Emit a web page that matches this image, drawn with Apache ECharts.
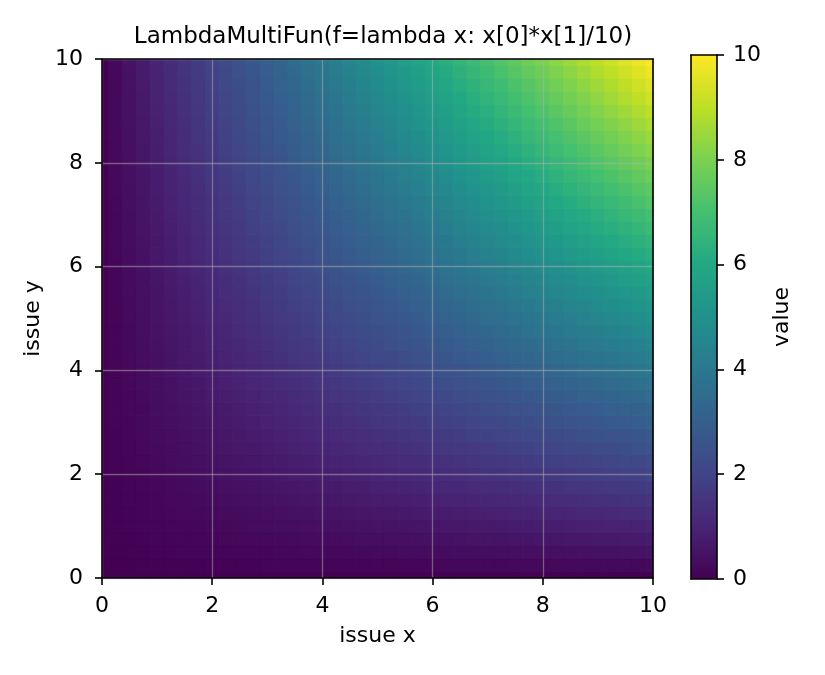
<!DOCTYPE html>
<html>
<head>
<meta charset="utf-8">
<script src="https://cdn.jsdelivr.net/npm/echarts@6/dist/echarts.min.js"></script>
<style>
    html, body {margin: 0; padding: 0; background: #fff;}
    #chart {width: 825px; height: 675px;}
</style>
</head>
<body>
<div id="chart"></div>
<script>
    'use strict';

    // sample positions of the heatmap (issue x / issue y), step 0.25
    const xLevels = [0, 0.25, 0.5, 0.75, 1, 1.25, 1.5, 1.75, 2, 2.25, 2.5, 2.75, 3, 3.25, 3.5, 3.75, 4, 4.25, 4.5, 4.75,
        5, 5.25, 5.5, 5.75, 6, 6.25, 6.5, 6.75, 7, 7.25, 7.5, 7.75, 8, 8.25, 8.5, 8.75, 9, 9.25, 9.5, 9.75, 10];
    const yLevels = [0, 0.25, 0.5, 0.75, 1, 1.25, 1.5, 1.75, 2, 2.25, 2.5, 2.75, 3, 3.25, 3.5, 3.75, 4, 4.25, 4.5, 4.75,
        5, 5.25, 5.5, 5.75, 6, 6.25, 6.5, 6.75, 7, 7.25, 7.5, 7.75, 8, 8.25, 8.5, 8.75, 9, 9.25, 9.5, 9.75, 10];
    // one row per yLevel (bottom to top), one column per xLevel
    const values = [
        [0,0,0,0,0,0,0,0, 0,0,0,0,0,0,0,0, 0,0,0,0,0,0,0,0, 0,0,0,0,0,0,0,0, 0,0,0,0,0,0,0,0, 0],
        [0,.01,.01,.02,.03,.03,.04,.04, .05,.06,.06,.07,.08,.08,.09,.09, .1,.11,.11,.12,.13,.13,.14,.14, .15,.16,.16,.17,.18,.18,.19,.19, .2,.21,.21,.22,.23,.23,.24,.24, .25],
        [0,.01,.03,.04,.05,.06,.08,.09, .1,.11,.13,.14,.15,.16,.18,.19, .2,.21,.23,.24,.25,.26,.28,.29, .3,.31,.33,.34,.35,.36,.38,.39, .4,.41,.43,.44,.45,.46,.48,.49, .5],
        [0,.02,.04,.06,.08,.09,.11,.13, .15,.17,.19,.21,.23,.24,.26,.28, .3,.32,.34,.36,.38,.39,.41,.43, .45,.47,.49,.51,.53,.54,.56,.58, .6,.62,.64,.66,.68,.69,.71,.73, .75],
        [0,.03,.05,.08,.1,.13,.15,.18, .2,.23,.25,.28,.3,.33,.35,.38, .4,.43,.45,.48,.5,.53,.55,.58, .6,.63,.65,.68,.7,.73,.75,.78, .8,.83,.85,.88,.9,.93,.95,.98, 1],
        [0,.03,.06,.09,.13,.16,.19,.22, .25,.28,.31,.34,.38,.41,.44,.47, .5,.53,.56,.59,.63,.66,.69,.72, .75,.78,.81,.84,.88,.91,.94,.97, 1,1.03,1.06,1.09,1.13,1.16,1.19,1.22, 1.25],
        [0,.04,.08,.11,.15,.19,.23,.26, .3,.34,.38,.41,.45,.49,.53,.56, .6,.64,.68,.71,.75,.79,.83,.86, .9,.94,.98,1.01,1.05,1.09,1.13,1.16, 1.2,1.24,1.28,1.31,1.35,1.39,1.43,1.46, 1.5],
        [0,.04,.09,.13,.18,.22,.26,.31, .35,.39,.44,.48,.53,.57,.61,.66, .7,.74,.79,.83,.88,.92,.96,1.01, 1.05,1.09,1.14,1.18,1.23,1.27,1.31,1.36, 1.4,1.44,1.49,1.53,1.58,1.62,1.66,1.71, 1.75],
        [0,.05,.1,.15,.2,.25,.3,.35, .4,.45,.5,.55,.6,.65,.7,.75, .8,.85,.9,.95,1,1.05,1.1,1.15, 1.2,1.25,1.3,1.35,1.4,1.45,1.5,1.55, 1.6,1.65,1.7,1.75,1.8,1.85,1.9,1.95, 2],
        [0,.06,.11,.17,.23,.28,.34,.39, .45,.51,.56,.62,.68,.73,.79,.84, .9,.96,1.01,1.07,1.13,1.18,1.24,1.29, 1.35,1.41,1.46,1.52,1.58,1.63,1.69,1.74, 1.8,1.86,1.91,1.97,2.03,2.08,2.14,2.19, 2.25],
        [0,.06,.13,.19,.25,.31,.38,.44, .5,.56,.63,.69,.75,.81,.88,.94, 1,1.06,1.13,1.19,1.25,1.31,1.38,1.44, 1.5,1.56,1.63,1.69,1.75,1.81,1.88,1.94, 2,2.06,2.13,2.19,2.25,2.31,2.38,2.44, 2.5],
        [0,.07,.14,.21,.28,.34,.41,.48, .55,.62,.69,.76,.83,.89,.96,1.03, 1.1,1.17,1.24,1.31,1.38,1.44,1.51,1.58, 1.65,1.72,1.79,1.86,1.93,1.99,2.06,2.13, 2.2,2.27,2.34,2.41,2.48,2.54,2.61,2.68, 2.75],
        [0,.08,.15,.23,.3,.38,.45,.53, .6,.68,.75,.83,.9,.98,1.05,1.13, 1.2,1.28,1.35,1.43,1.5,1.58,1.65,1.73, 1.8,1.88,1.95,2.03,2.1,2.18,2.25,2.33, 2.4,2.48,2.55,2.63,2.7,2.78,2.85,2.93, 3],
        [0,.08,.16,.24,.33,.41,.49,.57, .65,.73,.81,.89,.98,1.06,1.14,1.22, 1.3,1.38,1.46,1.54,1.63,1.71,1.79,1.87, 1.95,2.03,2.11,2.19,2.28,2.36,2.44,2.52, 2.6,2.68,2.76,2.84,2.93,3.01,3.09,3.17, 3.25],
        [0,.09,.18,.26,.35,.44,.53,.61, .7,.79,.88,.96,1.05,1.14,1.23,1.31, 1.4,1.49,1.58,1.66,1.75,1.84,1.93,2.01, 2.1,2.19,2.28,2.36,2.45,2.54,2.63,2.71, 2.8,2.89,2.98,3.06,3.15,3.24,3.33,3.41, 3.5],
        [0,.09,.19,.28,.38,.47,.56,.66, .75,.84,.94,1.03,1.13,1.22,1.31,1.41, 1.5,1.59,1.69,1.78,1.88,1.97,2.06,2.16, 2.25,2.34,2.44,2.53,2.63,2.72,2.81,2.91, 3,3.09,3.19,3.28,3.38,3.47,3.56,3.66, 3.75],
        [0,.1,.2,.3,.4,.5,.6,.7, .8,.9,1,1.1,1.2,1.3,1.4,1.5, 1.6,1.7,1.8,1.9,2,2.1,2.2,2.3, 2.4,2.5,2.6,2.7,2.8,2.9,3,3.1, 3.2,3.3,3.4,3.5,3.6,3.7,3.8,3.9, 4],
        [0,.11,.21,.32,.43,.53,.64,.74, .85,.96,1.06,1.17,1.28,1.38,1.49,1.59, 1.7,1.81,1.91,2.02,2.13,2.23,2.34,2.44, 2.55,2.66,2.76,2.87,2.98,3.08,3.19,3.29, 3.4,3.51,3.61,3.72,3.83,3.93,4.04,4.14, 4.25],
        [0,.11,.23,.34,.45,.56,.68,.79, .9,1.01,1.13,1.24,1.35,1.46,1.58,1.69, 1.8,1.91,2.03,2.14,2.25,2.36,2.48,2.59, 2.7,2.81,2.93,3.04,3.15,3.26,3.38,3.49, 3.6,3.71,3.83,3.94,4.05,4.16,4.28,4.39, 4.5],
        [0,.12,.24,.36,.48,.59,.71,.83, .95,1.07,1.19,1.31,1.43,1.54,1.66,1.78, 1.9,2.02,2.14,2.26,2.38,2.49,2.61,2.73, 2.85,2.97,3.09,3.21,3.33,3.44,3.56,3.68, 3.8,3.92,4.04,4.16,4.28,4.39,4.51,4.63, 4.75],
        [0,.13,.25,.38,.5,.63,.75,.88, 1,1.13,1.25,1.38,1.5,1.63,1.75,1.88, 2,2.13,2.25,2.38,2.5,2.63,2.75,2.88, 3,3.13,3.25,3.38,3.5,3.63,3.75,3.88, 4,4.13,4.25,4.38,4.5,4.63,4.75,4.88, 5],
        [0,.13,.26,.39,.53,.66,.79,.92, 1.05,1.18,1.31,1.44,1.58,1.71,1.84,1.97, 2.1,2.23,2.36,2.49,2.63,2.76,2.89,3.02, 3.15,3.28,3.41,3.54,3.68,3.81,3.94,4.07, 4.2,4.33,4.46,4.59,4.73,4.86,4.99,5.12, 5.25],
        [0,.14,.28,.41,.55,.69,.83,.96, 1.1,1.24,1.38,1.51,1.65,1.79,1.93,2.06, 2.2,2.34,2.48,2.61,2.75,2.89,3.03,3.16, 3.3,3.44,3.58,3.71,3.85,3.99,4.13,4.26, 4.4,4.54,4.68,4.81,4.95,5.09,5.23,5.36, 5.5],
        [0,.14,.29,.43,.58,.72,.86,1.01, 1.15,1.29,1.44,1.58,1.73,1.87,2.01,2.16, 2.3,2.44,2.59,2.73,2.88,3.02,3.16,3.31, 3.45,3.59,3.74,3.88,4.03,4.17,4.31,4.46, 4.6,4.74,4.89,5.03,5.18,5.32,5.46,5.61, 5.75],
        [0,.15,.3,.45,.6,.75,.9,1.05, 1.2,1.35,1.5,1.65,1.8,1.95,2.1,2.25, 2.4,2.55,2.7,2.85,3,3.15,3.3,3.45, 3.6,3.75,3.9,4.05,4.2,4.35,4.5,4.65, 4.8,4.95,5.1,5.25,5.4,5.55,5.7,5.85, 6],
        [0,.16,.31,.47,.63,.78,.94,1.09, 1.25,1.41,1.56,1.72,1.88,2.03,2.19,2.34, 2.5,2.66,2.81,2.97,3.13,3.28,3.44,3.59, 3.75,3.91,4.06,4.22,4.38,4.53,4.69,4.84, 5,5.16,5.31,5.47,5.63,5.78,5.94,6.09, 6.25],
        [0,.16,.33,.49,.65,.81,.98,1.14, 1.3,1.46,1.63,1.79,1.95,2.11,2.28,2.44, 2.6,2.76,2.93,3.09,3.25,3.41,3.58,3.74, 3.9,4.06,4.23,4.39,4.55,4.71,4.88,5.04, 5.2,5.36,5.53,5.69,5.85,6.01,6.18,6.34, 6.5],
        [0,.17,.34,.51,.68,.84,1.01,1.18, 1.35,1.52,1.69,1.86,2.03,2.19,2.36,2.53, 2.7,2.87,3.04,3.21,3.38,3.54,3.71,3.88, 4.05,4.22,4.39,4.56,4.73,4.89,5.06,5.23, 5.4,5.57,5.74,5.91,6.08,6.24,6.41,6.58, 6.75],
        [0,.18,.35,.53,.7,.88,1.05,1.23, 1.4,1.58,1.75,1.93,2.1,2.28,2.45,2.63, 2.8,2.98,3.15,3.33,3.5,3.68,3.85,4.03, 4.2,4.38,4.55,4.73,4.9,5.08,5.25,5.43, 5.6,5.78,5.95,6.13,6.3,6.48,6.65,6.83, 7],
        [0,.18,.36,.54,.73,.91,1.09,1.27, 1.45,1.63,1.81,1.99,2.18,2.36,2.54,2.72, 2.9,3.08,3.26,3.44,3.63,3.81,3.99,4.17, 4.35,4.53,4.71,4.89,5.08,5.26,5.44,5.62, 5.8,5.98,6.16,6.34,6.53,6.71,6.89,7.07, 7.25],
        [0,.19,.38,.56,.75,.94,1.13,1.31, 1.5,1.69,1.88,2.06,2.25,2.44,2.63,2.81, 3,3.19,3.38,3.56,3.75,3.94,4.13,4.31, 4.5,4.69,4.88,5.06,5.25,5.44,5.63,5.81, 6,6.19,6.38,6.56,6.75,6.94,7.13,7.31, 7.5],
        [0,.19,.39,.58,.78,.97,1.16,1.36, 1.55,1.74,1.94,2.13,2.33,2.52,2.71,2.91, 3.1,3.29,3.49,3.68,3.88,4.07,4.26,4.46, 4.65,4.84,5.04,5.23,5.43,5.62,5.81,6.01, 6.2,6.39,6.59,6.78,6.98,7.17,7.36,7.56, 7.75],
        [0,.2,.4,.6,.8,1,1.2,1.4, 1.6,1.8,2,2.2,2.4,2.6,2.8,3, 3.2,3.4,3.6,3.8,4,4.2,4.4,4.6, 4.8,5,5.2,5.4,5.6,5.8,6,6.2, 6.4,6.6,6.8,7,7.2,7.4,7.6,7.8, 8],
        [0,.21,.41,.62,.83,1.03,1.24,1.44, 1.65,1.86,2.06,2.27,2.48,2.68,2.89,3.09, 3.3,3.51,3.71,3.92,4.13,4.33,4.54,4.74, 4.95,5.16,5.36,5.57,5.78,5.98,6.19,6.39, 6.6,6.81,7.01,7.22,7.43,7.63,7.84,8.04, 8.25],
        [0,.21,.43,.64,.85,1.06,1.28,1.49, 1.7,1.91,2.13,2.34,2.55,2.76,2.98,3.19, 3.4,3.61,3.83,4.04,4.25,4.46,4.68,4.89, 5.1,5.31,5.53,5.74,5.95,6.16,6.38,6.59, 6.8,7.01,7.23,7.44,7.65,7.86,8.08,8.29, 8.5],
        [0,.22,.44,.66,.88,1.09,1.31,1.53, 1.75,1.97,2.19,2.41,2.63,2.84,3.06,3.28, 3.5,3.72,3.94,4.16,4.38,4.59,4.81,5.03, 5.25,5.47,5.69,5.91,6.13,6.34,6.56,6.78, 7,7.22,7.44,7.66,7.88,8.09,8.31,8.53, 8.75],
        [0,.23,.45,.68,.9,1.13,1.35,1.58, 1.8,2.03,2.25,2.48,2.7,2.93,3.15,3.38, 3.6,3.83,4.05,4.28,4.5,4.73,4.95,5.18, 5.4,5.63,5.85,6.08,6.3,6.53,6.75,6.98, 7.2,7.43,7.65,7.88,8.1,8.33,8.55,8.78, 9],
        [0,.23,.46,.69,.93,1.16,1.39,1.62, 1.85,2.08,2.31,2.54,2.78,3.01,3.24,3.47, 3.7,3.93,4.16,4.39,4.63,4.86,5.09,5.32, 5.55,5.78,6.01,6.24,6.48,6.71,6.94,7.17, 7.4,7.63,7.86,8.09,8.33,8.56,8.79,9.02, 9.25],
        [0,.24,.48,.71,.95,1.19,1.43,1.66, 1.9,2.14,2.38,2.61,2.85,3.09,3.33,3.56, 3.8,4.04,4.28,4.51,4.75,4.99,5.23,5.46, 5.7,5.94,6.18,6.41,6.65,6.89,7.13,7.36, 7.6,7.84,8.08,8.31,8.55,8.79,9.03,9.26, 9.5],
        [0,.24,.49,.73,.98,1.22,1.46,1.71, 1.95,2.19,2.44,2.68,2.93,3.17,3.41,3.66, 3.9,4.14,4.39,4.63,4.88,5.12,5.36,5.61, 5.85,6.09,6.34,6.58,6.83,7.07,7.31,7.56, 7.8,8.04,8.29,8.53,8.78,9.02,9.26,9.51, 9.75],
        [0,.25,.5,.75,1,1.25,1.5,1.75, 2,2.25,2.5,2.75,3,3.25,3.5,3.75, 4,4.25,4.5,4.75,5,5.25,5.5,5.75, 6,6.25,6.5,6.75,7,7.25,7.5,7.75, 8,8.25,8.5,8.75,9,9.25,9.5,9.75, 10]
    ];
    const valueRange = [0, 10];
    const viridis = ['#440154', '#482475', '#414487', '#355f8d', '#2a788e', '#21918c',
        '#22a884', '#44bf70', '#7ad151', '#bddf26', '#fde725'];

    const font = 'DejaVu Sans';
    const half = 0.125; // half a cell

    const cells = [];
    yLevels.forEach((y, j) => xLevels.forEach((x, i) => cells.push([x, y, values[j][i]])));

    // plain black edge, only used to close the boxes
    const frame = (gridIndex, position, isX) => ({
        type: 'value', gridIndex: gridIndex, position: position, z: 10,
        min: isX ? 0 : valueRange[0], max: isX ? 10 : valueRange[1],
        axisLine: {show: true, onZero: false, lineStyle: {color: '#000', width: 1.6}},
        axisTick: {show: false}, axisLabel: {show: false}, splitLine: {show: false}
    });

    const label = margin => ({color: '#000', fontFamily: font, fontSize: 22, margin: margin});

    const tickAxis = (extra) => Object.assign({
        type: 'value', z: 10, min: 0, max: 10, interval: 2,
        axisLine: {show: true, onZero: false, lineStyle: {color: '#000', width: 1.6}},
        axisTick: {show: true, inside: false, length: 7, lineStyle: {color: '#000', width: 1.6}},
        nameTextStyle: {color: '#000', fontFamily: font, fontSize: 22},
        splitLine: {show: true, lineStyle: {color: 'rgba(176,176,176,0.5)', width: 1.3}}
    }, extra);

    const chart = echarts.init(document.getElementById('chart'), null, {renderer: 'canvas'});
    chart.setOption({
        animation: false,
        backgroundColor: '#fff',
        title: {
            text: 'LambdaMultiFun(f=lambda x: x[0]*x[1]/10)',
            left: 378, top: 21, textAlign: 'center',
            textStyle: {fontFamily: font, fontSize: 23, fontWeight: 'normal', color: '#000'}
        },
        grid: [
            {left: 102, top: 59, width: 551, height: 519},
            {left: 691, top: 55, width: 26, height: 524}
        ],
        xAxis: [
            tickAxis({gridIndex: 0, position: 'bottom', name: 'issue x', nameLocation: 'middle', nameGap: 47,
                axisLabel: label(17)}),
            frame(0, 'top', true),
            frame(1, 'bottom', true),
            frame(1, 'top', true)
        ],
        yAxis: [
            tickAxis({gridIndex: 0, position: 'left', name: 'issue y', nameLocation: 'middle', nameGap: 54,
                axisLabel: label(19)}),
            frame(0, 'right', false),
            frame(1, 'left', false),
            tickAxis({gridIndex: 1, position: 'right', min: valueRange[0], max: valueRange[1],
                name: 'value', nameLocation: 'middle', nameGap: 54, nameRotate: 90,
                splitLine: {show: false}, axisLabel: label(16)})
        ],
        visualMap: {
            type: 'continuous', seriesIndex: 0, dimension: 2,
            min: valueRange[0], max: valueRange[1],
            inRange: {color: viridis},
            calculable: false, text: null,
            left: 691, top: 55, padding: 0,
            itemWidth: 26, itemHeight: 524
        },
        series: [{
            type: 'custom',
            xAxisIndex: 0, yAxisIndex: 0,
            clip: true, z: 2,
            data: cells,
            renderItem: (params, api) => {
                const p0 = api.coord([api.value(0) - half, api.value(1) + half]),
                    p1 = api.coord([api.value(0) + half, api.value(1) - half]),
                    c = api.visual('color');
                return {
                    type: 'rect',
                    shape: {x: p0[0], y: p0[1], width: p1[0] - p0[0], height: p1[1] - p0[1]},
                    style: {fill: c, stroke: c, lineWidth: 1}
                };
            }
        }]
    });
</script>
</body>
</html>
